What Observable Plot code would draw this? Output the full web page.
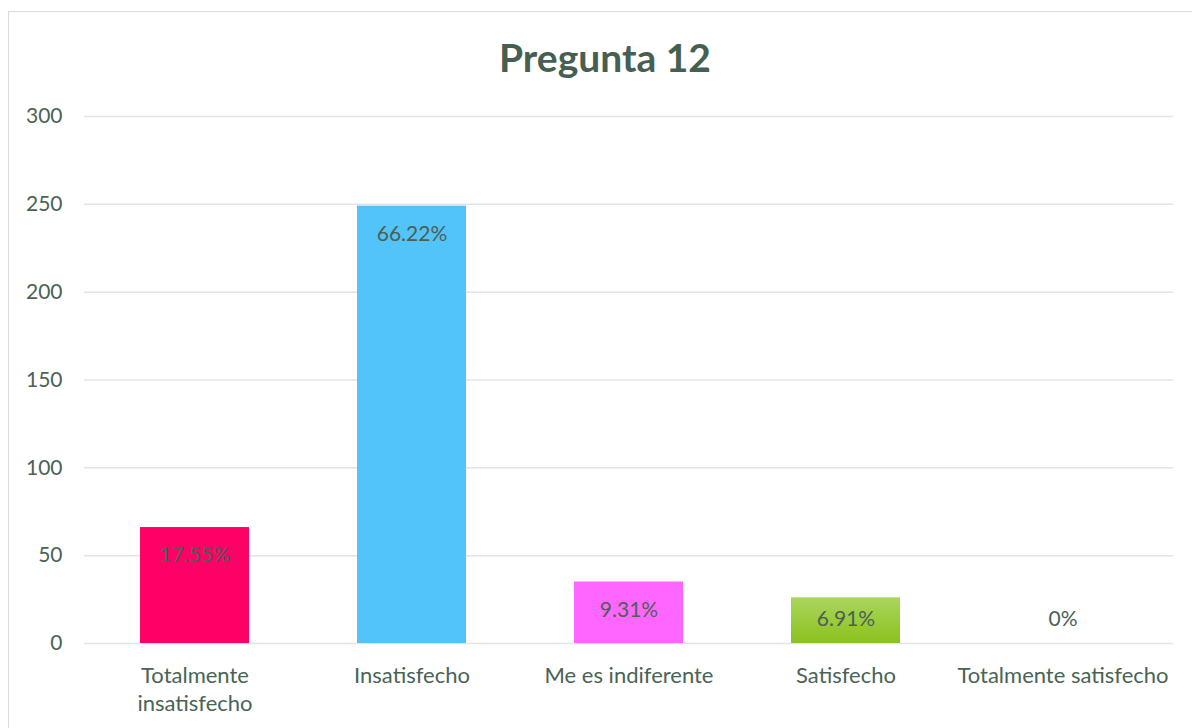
<!DOCTYPE html>
<html>
<head>
<meta charset="utf-8">
<script src="https://cdn.jsdelivr.net/npm/d3@7"></script>
<script src="https://cdn.jsdelivr.net/npm/@observablehq/plot@0.6"></script>
<style>
  body { margin: 0; background: #fff; font-family: Lato, "Open Sans", sans-serif; }
  #frame { position: relative; width: 1192px; height: 728px; overflow: hidden; }
  #border { position: absolute; left: 8px; top: 11px; width: 1200px; height: 800px; border: 1px solid #d9dedc; box-sizing: border-box; }
  #title { position: absolute; left: 0; top: 34px; width: 1210px; text-align: center; font-size: 39px; font-weight: bold; color: #465f52; }
  #chart { position: absolute; left: 0; top: 0; }
</style>
</head>
<body>
<div id="frame">
  <div id="border"></div>
  <div id="chart"></div>
  <div id="title">Pregunta 12</div>
</div>
<script>
const categories = ["Totalmente insatisfecho", "Insatisfecho", "Me es indiferente", "Satisfecho", "Totalmente satisfecho"];
const tickLabels = ["Totalmente\ninsatisfecho", "Insatisfecho", "Me es indiferente", "Satisfecho", "Totalmente satisfecho"];
const counts = [66, 249, 35, 26, 0];
const percentLabels = ["17.55%", "66.22%", "9.31%", "6.91%", "0%"];
const barColors = ["#FF0066", "#52C4F9", "#FF66FF", "url(#greenGrad)", "#ffffff"];
const yTicks = [0, 50, 100, 150, 200, 250, 300];

const data = categories.map((c, i) => ({cat: c, value: counts[i], label: percentLabels[i], color: barColors[i]}));
const textColor = "#4a6355";

const plot = Plot.plot({
  width: 1192,
  height: 728,
  marginTop: 116,
  marginBottom: 85,
  marginLeft: 84,
  marginRight: 19,
  style: { fontFamily: "Lato, 'Open Sans', sans-serif", fontSize: "21px", color: textColor, background: "transparent" },
  x: { domain: categories, paddingInner: 0.5, paddingOuter: 0.25, label: null },
  y: { domain: [0, 300], ticks: yTicks, label: null },
  color: { type: "identity" },
  marks: [
    Plot.gridY(yTicks, { stroke: "#e1e6e4", strokeOpacity: 1, strokeWidth: 1.5 }),
    Plot.barY(data, { x: "cat", y: "value", fill: "color" }),
    Plot.text(data, { x: "cat", y: d => Math.max(d.value, 30), dy: 28, text: "label", fill: "#4d5f55", fontSize: 21 }),
    Plot.axisY({ ticks: yTicks, tickSize: 0, tickPadding: 22, fontSize: 21, fill: textColor }),
    Plot.axisX({ tickSize: 0, tickPadding: 19, fontSize: 22, fill: textColor, lineWidth: 100, lineHeight: 1.3, textAnchor: "middle",
      tickFormat: d => tickLabels[categories.indexOf(d)] })
  ]
});

const ns = "http://www.w3.org/2000/svg";
const defs = document.createElementNS(ns, "defs");
defs.innerHTML = '<linearGradient id="greenGrad" x1="0" y1="0" x2="0" y2="1"><stop offset="0" stop-color="#AAD65C"/><stop offset="1" stop-color="#8BC11E"/></linearGradient>';
plot.insertBefore(defs, plot.firstChild);
document.getElementById("chart").appendChild(plot);
</script>
</body>
</html>
